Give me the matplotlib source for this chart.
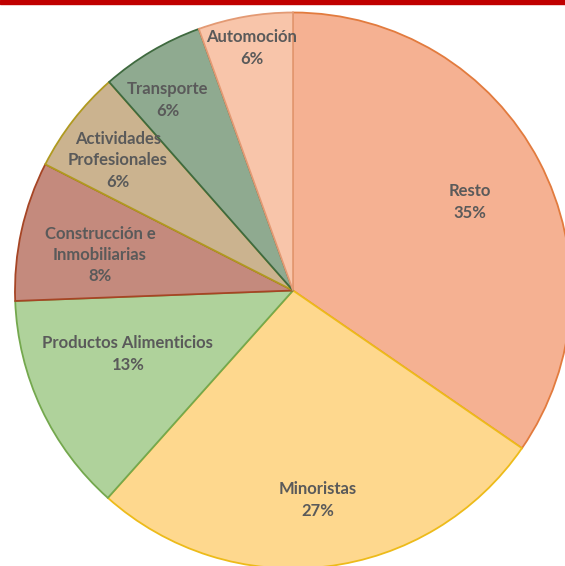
import numpy as np
import matplotlib
matplotlib.use("Agg")
import matplotlib.pyplot as plt

categories = ["Resto", "Minoristas", "Productos Alimenticios",
              "Construcción e\nInmobiliarias", "Actividades\nProfesionales",
              "Transporte", "Automoción"]
values = [34.6, 27.0, 12.8, 8.1, 6.0, 6.0, 5.5]

fills = ["#F5B192", "#FED88E", "#AFD29B", "#C48A7D", "#CBB38F", "#8FAA90", "#F8C5AA"]
edges = ["#E27B3E", "#EDBB1A", "#74A84E", "#A64525", "#B09A20", "#3F6A3F", "#E39A74"]
label_r = [0.712, 0.759, 0.636, 0.706, 0.785, 0.82, 0.885]
label_dang = [-1.1, 0.0, -4.2, 2.0, 1.1, 2.7, -0.3]

W, H = 565, 566
fig = plt.figure(figsize=(W / 100, H / 100), dpi=100)
ax = fig.add_axes([0, 0, 1, 1])

cx, cy, R = 293, H - 290.5, 278
wedges, _ = ax.pie(values, startangle=90, counterclock=False,
                   center=(cx, cy), radius=R, colors=fills,
                   wedgeprops=dict(linewidth=1.3))
for w, ec in zip(wedges, edges):
    w.set_edgecolor(ec)

ax.set_xlim(0, W)
ax.set_ylim(0, H)
ax.set_aspect("equal")
ax.axis("off")

total = sum(values)
for w, cat, v, lr, da in zip(wedges, categories, values, label_r, label_dang):
    ang = np.deg2rad((w.theta1 + w.theta2) / 2 + da)
    x = cx + lr * R * np.cos(ang)
    y = cy + lr * R * np.sin(ang)
    ax.text(x, y, f"{cat}\n{round(v / total * 100)}%", ha="center", va="center",
            fontsize=12, fontweight="bold", color="#5A5A5A",
            family=["Lato", "DejaVu Sans"], linespacing=1.42)

# red rule at top
ax.axhspan(H - 3.5, H, color="#C00000", zorder=5)

fig.savefig("out.png", dpi=100)
